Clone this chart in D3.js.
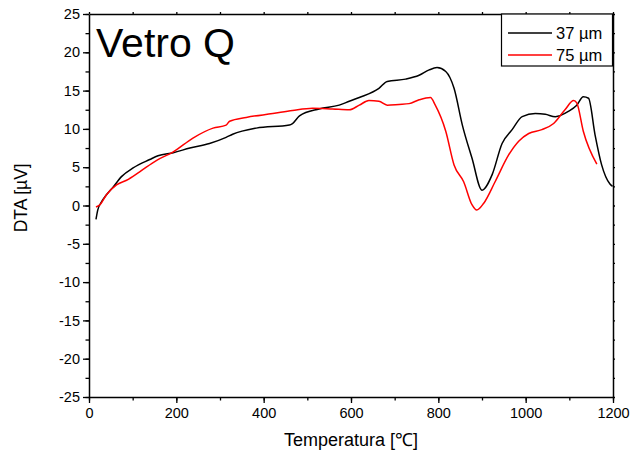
<!DOCTYPE html>
<html>
<head>
<meta charset="utf-8">
<script src="https://cdn.jsdelivr.net/npm/d3@7"></script>
<style>
  body { margin: 0; background: #fff; }
  text { font-family: Arial, "Liberation Sans", sans-serif; }
</style>
</head>
<body>
<div id="chart"></div>
<script>
const width = 632;
const height = 462;

// ---- data ----
const seriesNames = ["37 µm", "75 µm"];
const seriesColors = ["#000000", "#ff0000"];

const tempBlack = [16, 20, 29, 40, 55, 75, 101, 139, 158, 193, 231, 276, 314, 329, 383, 459, 466, 482, 527, 573, 596, 619, 664, 683, 725, 756, 779, 797, 817, 836, 855, 877, 900, 923, 946, 969, 992, 1022, 1045, 1068, 1098, 1117, 1132, 1144, 1159, 1174, 1193, 1199];
const dtaBlack = [-1.8, -0.6, 0.5, 1.4, 2.4, 3.8, 4.9, 6.0, 6.5, 6.9, 7.5, 8.1, 8.9, 9.3, 10.1, 10.5, 10.7, 11.7, 12.6, 13.1, 13.6, 14.1, 15.3, 16.2, 16.5, 17.0, 17.7, 18.0, 17.5, 15.3, 10.5, 6.2, 2.0, 4.0, 8.1, 9.9, 11.6, 12.0, 11.9, 11.6, 12.3, 13.1, 14.2, 14.0, 9.2, 5.3, 2.8, 2.5];

const tempRed = [16, 25, 40, 63, 86, 116, 155, 193, 238, 284, 314, 322, 360, 421, 466, 512, 558, 596, 619, 641, 664, 683, 710, 733, 756, 782, 793, 817, 836, 858, 877, 888, 904, 930, 961, 984, 1007, 1037, 1064, 1090, 1110, 1117, 1132, 1163];
const dtaRed = [-0.2, 0.1, 1.4, 2.7, 3.3, 4.4, 5.9, 7.0, 8.8, 10.1, 10.5, 11.0, 11.5, 12.0, 12.4, 12.7, 12.6, 12.5, 13.1, 13.7, 13.6, 13.1, 13.2, 13.3, 13.8, 14.1, 13.1, 9.7, 5.3, 3.1, 0.1, -0.6, 0.3, 3.1, 6.6, 8.4, 9.4, 9.9, 10.7, 12.5, 13.7, 13.4, 9.7, 5.4];

const xMajor = [0, 200, 400, 600, 800, 1000, 1200];
const yMajor = [-25, -20, -15, -10, -5, 0, 5, 10, 15, 20, 25];

const margin = { top: 14, right: 19, bottom: 65, left: 89 };

const svg = d3
  .select("#chart")
  .append("svg")
  .attr("width", width)
  .attr("height", height);

const x = d3.scaleLinear().domain([0, 1200]).range([margin.left, width - margin.right]);
const y = d3.scaleLinear().domain([-25, 25]).range([height - margin.bottom, margin.top]);

const series = [
  { name: seriesNames[0], color: seriesColors[0], pts: tempBlack.map((t, i) => [t, dtaBlack[i]]) },
  { name: seriesNames[1], color: seriesColors[1], pts: tempRed.map((t, i) => [t, dtaRed[i]]) },
];

//-------axes-------//
const xMinor = d3.range(0, 1201, 100);
const yMinor = d3.range(-25, 25.01, 2.5);
const plain = (d) => String(d);

// bottom
svg.append("g")
  .attr("transform", `translate(0,${y(-25)})`)
  .call(d3.axisBottom(x).tickValues(xMinor).tickSize(3.5).tickFormat(""))
  .call((g) => g.select(".domain").remove());
svg.append("g")
  .attr("class", "xaxis")
  .attr("transform", `translate(0,${y(-25)})`)
  .call(d3.axisBottom(x).tickValues(xMajor).tickFormat(plain).tickSize(6).tickPadding(5).tickSizeOuter(0));

// left
svg.append("g")
  .attr("transform", `translate(${x(0)},0)`)
  .call(d3.axisLeft(y).tickValues(yMinor).tickSize(3.5).tickFormat(""))
  .call((g) => g.select(".domain").remove());
svg.append("g")
  .attr("class", "yaxis")
  .attr("transform", `translate(${x(0)},0)`)
  .call(d3.axisLeft(y).tickValues(yMajor).tickFormat(plain).tickSize(6).tickPadding(3).tickSizeOuter(0));

// top & right (tiny ticks)
svg.append("g")
  .attr("transform", `translate(0,${y(25)})`)
  .call(d3.axisTop(x).tickValues(xMinor).tickSize(2).tickFormat("").tickSizeOuter(0));
svg.append("g")
  .attr("transform", `translate(${x(1200)},0)`)
  .call(d3.axisRight(y).tickValues(yMinor).tickSize(2).tickFormat("").tickSizeOuter(0));

svg.selectAll(".domain").attr("stroke", "#000").attr("stroke-width", 1.5);
svg.selectAll(".tick line").attr("stroke", "#000").attr("stroke-width", 1.3);
svg.selectAll(".xaxis text, .yaxis text")
  .attr("font-size", 14.5)
  .attr("fill", "#000")
  .style("font-family", "Arial, 'Liberation Sans', sans-serif");

//-------lines-------//
const line = d3.line()
  .x((d) => x(d[0]))
  .y((d) => y(d[1]))
  .curve(d3.curveMonotoneX);

svg.append("g")
  .selectAll("path")
  .data(series)
  .join("path")
  .attr("fill", "none")
  .attr("stroke", (d) => d.color)
  .attr("stroke-width", 1.5)
  .attr("stroke-linejoin", "round")
  .attr("d", (d) => line(d.pts));

//-------labels-------//
svg.append("text")
  .attr("x", x(600))
  .attr("y", 446)
  .attr("text-anchor", "middle")
  .attr("font-size", 18)
  .text("Temperatura [℃]");

svg.append("text")
  .attr("transform", `translate(27,${y(1)}) rotate(-90)`)
  .attr("text-anchor", "middle")
  .attr("font-size", 17.5)
  .text("DTA [µV]");

svg.append("text")
  .attr("x", 96)
  .attr("y", 57)
  .attr("font-size", 41)
  .text("Vetro Q");

//-------legend-------//
const lg = svg.append("g");
lg.append("rect")
  .attr("x", 501.5)
  .attr("y", y(25))
  .attr("width", 111)
  .attr("height", 52)
  .attr("fill", "#fff")
  .attr("stroke", "#000")
  .attr("stroke-width", 1.2);

series.forEach((s, i) => {
  const ly = 33 + i * 22;
  lg.append("line")
    .attr("x1", 508)
    .attr("x2", 552)
    .attr("y1", ly)
    .attr("y2", ly)
    .attr("stroke", s.color)
    .attr("stroke-width", 1.5);
  lg.append("text")
    .attr("x", 556)
    .attr("y", ly + 6)
    .attr("font-size", 16.5)
    .text(s.name);
});
</script>
</body>
</html>
